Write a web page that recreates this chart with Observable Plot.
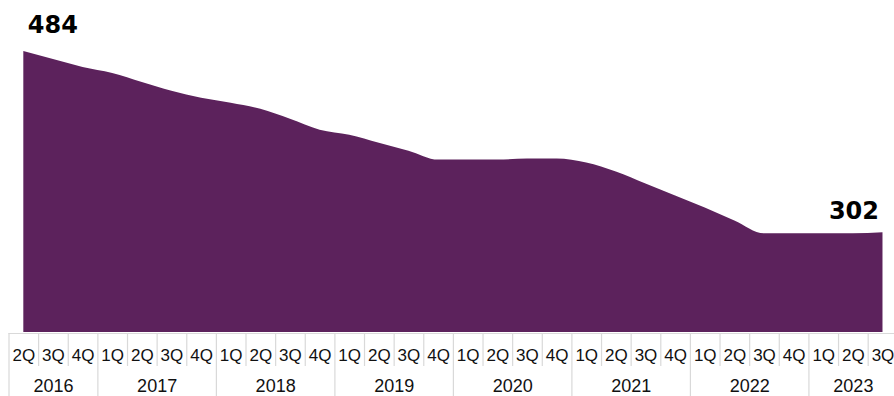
<!DOCTYPE html>
<html>
<head>
<meta charset="utf-8">
<script src="https://cdn.jsdelivr.net/npm/d3@7"></script>
<script src="https://cdn.jsdelivr.net/npm/@observablehq/plot@0.6"></script>
<style>
  html, body { margin: 0; padding: 0; background: #ffffff; }
  #chart svg { display: block; }
</style>
</head>
<body>
<div id="chart"></div>
<script>
// Quarter labels (2Q 2016 .. 3Q 2023)
const quarters = ["2Q","3Q","4Q",
  "1Q","2Q","3Q","4Q",
  "1Q","2Q","3Q","4Q",
  "1Q","2Q","3Q","4Q",
  "1Q","2Q","3Q","4Q",
  "1Q","2Q","3Q","4Q",
  "1Q","2Q","3Q","4Q",
  "1Q","2Q","3Q"];
const years = [2016,2016,2016,
  2017,2017,2017,2017,
  2018,2018,2018,2018,
  2019,2019,2019,2019,
  2020,2020,2020,2020,
  2021,2021,2021,2021,
  2022,2022,2022,2022,
  2023,2023,2023];
const values = [484,476,468,462,453,444,437,432,426,416,
  405,400,392,384,375,375,375,376,376,372,
  363,351,339,327,314,301,301,301,301,302];
const yBaseline = 202;

const purple = "#5c225c";
const grid = "#d9d9d9";

const data = values.map((v, i) => ({i, v, q: quarters[i], yr: years[i]}));
const yearGroups = Array.from(d3.group(data, d => d.yr), ([yr, rows]) => ({
  yr, mid: d3.mean(rows, d => d.i)
}));
const allBounds = d3.range(data.length + 1).map(j => j - 0.5);
const yearBounds = allBounds.filter(b => {
  const left = data[Math.floor(b)], right = data[Math.ceil(b)];
  return !left || !right || left.yr !== right.yr;
});
const quarterBounds = allBounds.filter(b => !yearBounds.includes(b));
const first = data[0], last = data[data.length - 1];

const chart = Plot.plot({
  width: 894,
  height: 396,
  margin: 0,
  x: {type: "linear", domain: [-0.5, data.length - 0.5], range: [8.5, 897.3], axis: null},
  y: {domain: [yBaseline, first.v], range: [332, 51], axis: null},
  marks: [
    Plot.areaY(data, {x: "i", y1: yBaseline, y2: "v", curve: "monotone-x", fill: purple}),
    Plot.ruleY([yBaseline], {x1: -0.5, x2: data.length - 0.5, dy: 1, stroke: grid, strokeWidth: 1.2}),
    Plot.ruleX(quarterBounds, {x: d => d, insetTop: 333, insetBottom: 30, stroke: grid, strokeWidth: 1.2}),
    Plot.ruleX(yearBounds, {x: d => d, insetTop: 333, stroke: grid, strokeWidth: 1.2}),
    Plot.text(data, {x: "i", text: "q", frameAnchor: "bottom", lineAnchor: "bottom", dy: -36,
      fontFamily: "'Liberation Sans', Arial, sans-serif", fontSize: 17, fill: "#111"}),
    Plot.text(yearGroups, {x: "mid", text: d => String(d.yr), frameAnchor: "bottom", lineAnchor: "bottom", dy: -5,
      fontFamily: "'Liberation Sans', Arial, sans-serif", fontSize: 18, fill: "#111"}),
    Plot.text([first], {x: "i", y: "v", text: d => String(d.v), textAnchor: "start", lineAnchor: "bottom",
      dx: 4, dy: -19, fontFamily: "'DejaVu Sans', sans-serif", fontWeight: "bold", fontSize: 24, fill: "#000"}),
    Plot.text([last], {x: "i", y: "v", text: d => String(d.v), textAnchor: "end", lineAnchor: "bottom",
      dx: -4, dy: -14, fontFamily: "'DejaVu Sans', sans-serif", fontWeight: "bold", fontSize: 24, fill: "#000"})
  ]
});
document.getElementById("chart").appendChild(chart);
</script>
</body>
</html>
